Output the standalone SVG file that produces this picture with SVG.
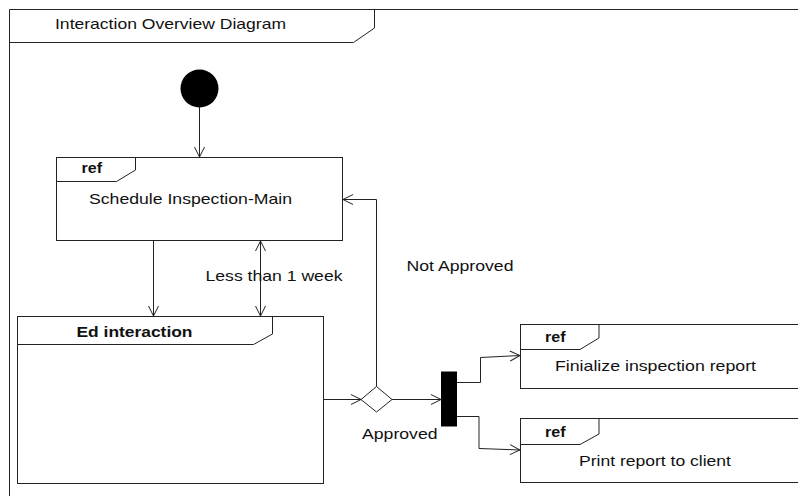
<svg xmlns="http://www.w3.org/2000/svg" width="798" height="496" viewBox="0 0 798 496">
  <defs>
    <style>
      .ln { fill: none; stroke: #222; stroke-width: 1; }
      .box { fill: #fff; stroke: #222; stroke-width: 1; }
      .t { font-family: "Liberation Sans", Arial, sans-serif; font-size: 15px; fill: #111; }
      .b { font-weight: bold; }
    </style>
    <marker id="open" viewBox="0 0 12 12" refX="11" refY="6" markerWidth="12" markerHeight="12" markerUnits="userSpaceOnUse" orient="auto-start-reverse">
      <path d="M1,1 L11,6 L1,11" fill="none" stroke="#222" stroke-width="1"/>
    </marker>
  </defs>

  <!-- outer frame with title tab -->
  <g id="frame">
    <path class="ln" d="M9.5,496 V9.5 H800"/>
    <path class="ln" d="M9.5,42.5 H353.5 L374.5,28 V9.5"/>
    <text class="t" x="55" y="29" textLength="231" lengthAdjust="spacingAndGlyphs">Interaction Overview Diagram</text>
  </g>

  <!-- connectors -->
  <g id="connectors">
    <line class="ln" x1="199.5" y1="107" x2="199.5" y2="157" marker-end="url(#open)"/>
    <line class="ln" x1="153.5" y1="241" x2="153.5" y2="316" marker-end="url(#open)"/>
    <line class="ln" x1="260.5" y1="241" x2="260.5" y2="316" marker-start="url(#open)" marker-end="url(#open)"/>
    <line class="ln" x1="323.5" y1="399.5" x2="361" y2="399.5" marker-end="url(#open)"/>
    <polyline class="ln" points="376.5,387 376.5,199.5 343,199.5" marker-end="url(#open)"/>
    <line class="ln" x1="392" y1="399.5" x2="441" y2="399.5" marker-end="url(#open)"/>
    <polyline class="ln" points="457,382.5 480.5,382.5 480.5,357.5 520,355.5" marker-end="url(#open)"/>
    <polyline class="ln" points="457,416.5 479,416.5 479,448.5 520,450" marker-end="url(#open)"/>
    <text class="t" x="205.5" y="280.5" textLength="137" lengthAdjust="spacingAndGlyphs">Less than 1 week</text>
    <text class="t" x="406.5" y="271" textLength="107" lengthAdjust="spacingAndGlyphs">Not Approved</text>
    <text class="t" x="362" y="439" textLength="75.5" lengthAdjust="spacingAndGlyphs">Approved</text>
  </g>

  <!-- initial node -->
  <g id="start">
    <circle cx="199.5" cy="88.5" r="19" fill="#000"/>
  </g>

  <!-- ref: Schedule Inspection-Main -->
  <g id="schedule">
    <rect class="box" x="56.5" y="157.5" width="286" height="83"/>
    <path class="ln" d="M56.5,181.5 H116.5 L135.5,170 V157.5"/>
    <text class="t b" x="81.5" y="173" textLength="20.5" lengthAdjust="spacingAndGlyphs">ref</text>
    <text class="t" x="89" y="204" textLength="203" lengthAdjust="spacingAndGlyphs">Schedule Inspection-Main</text>
  </g>

  <!-- Ed interaction frame -->
  <g id="ed">
    <rect class="box" x="17.5" y="316.5" width="306" height="167"/>
    <path class="ln" d="M17.5,344.5 H253.5 L272.5,334 V316.5"/>
    <text class="t b" x="76.5" y="337" textLength="116" lengthAdjust="spacingAndGlyphs">Ed interaction</text>
  </g>

  <!-- decision -->
  <g id="decision">
    <polygon points="376.5,386.5 392,399.5 376.5,412 361,399.5" fill="#fff" stroke="#222" stroke-width="1"/>
  </g>

  <!-- fork bar -->
  <g id="fork">
    <rect x="441" y="371.5" width="16" height="55" fill="#000"/>
  </g>

  <!-- ref: Finialize inspection report -->
  <g id="finalize">
    <rect class="box" x="520.5" y="324.5" width="290" height="64"/>
    <path class="ln" d="M520.5,349.5 H580 L599,338 V324.5"/>
    <text class="t b" x="545" y="341.5" textLength="20.5" lengthAdjust="spacingAndGlyphs">ref</text>
    <text class="t" x="555" y="371" textLength="201" lengthAdjust="spacingAndGlyphs">Finialize inspection report</text>
  </g>

  <!-- ref: Print report to client -->
  <g id="print">
    <rect class="box" x="520.5" y="418.5" width="290" height="64"/>
    <path class="ln" d="M520.5,444.5 H580 L599,434 V418.5"/>
    <text class="t b" x="545" y="437" textLength="20.5" lengthAdjust="spacingAndGlyphs">ref</text>
    <text class="t" x="579" y="466" textLength="152" lengthAdjust="spacingAndGlyphs">Print report to client</text>
  </g>
</svg>
